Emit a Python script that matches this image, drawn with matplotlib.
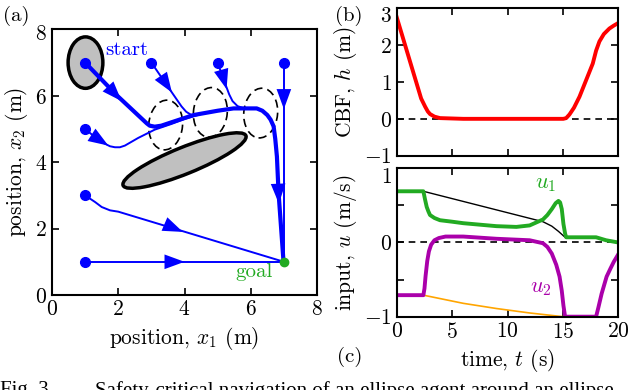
import numpy as np
import matplotlib
matplotlib.use("Agg")
import matplotlib.pyplot as plt
import matplotlib.transforms as mtransforms
from matplotlib.patches import Ellipse

plt.rcParams['font.family'] = 'serif'
plt.rcParams['font.serif'] = ['cmr10']
plt.rcParams['mathtext.fontset'] = 'cm'
plt.rcParams['axes.formatter.use_mathtext'] = True
plt.rcParams['axes.unicode_minus'] = True
plt.rcParams['font.size'] = 15.5
plt.rcParams['lines.solid_joinstyle'] = 'round'

# (a) trajectories in the plane (x1, x2)
main_x = [1.0, 1.95, 2.86, 2.95, 3.1, 3.3, 3.6, 4.27, 5.0, 5.48, 6.18, 6.35, 6.5, 6.6, 6.69, 6.74, 6.79, 6.84, 6.99]
main_y = [7.0, 6.02, 5.17, 5.1, 5.07, 5.1, 5.2, 5.42, 5.55, 5.62, 5.62, 5.55, 5.42, 5.28, 5.08, 4.7, 4.17, 3.07, 1.0]
traj2_x = [3.0, 3.46, 3.91, 4.05, 4.21, 4.6]
traj2_y = [7.0, 6.33, 5.68, 5.52, 5.42, 5.48]
traj3_x = [5.0, 5.2, 5.35, 5.45, 5.6, 5.8, 6.1]
traj3_y = [7.0, 6.44, 6.04, 5.84, 5.69, 5.62, 5.62]
traj4_x = [7.0, 7.0]
traj4_y = [7.0, 1.0]
traj5_x = [1.0, 1.45, 1.75, 1.9, 2.05, 2.2, 2.6, 3.1, 3.6, 4.0, 4.4]
traj5_y = [5.0, 4.63, 4.48, 4.45, 4.45, 4.5, 4.73, 4.98, 5.15, 5.3, 5.42]
traj6_x = [1.0, 1.3, 1.5, 1.75, 2.0, 7.0]
traj6_y = [3.0, 2.8, 2.65, 2.55, 2.51, 1.0]
traj7_x = [1.0, 7.0]
traj7_y = [1.0, 1.0]
agent_x = [3.43, 4.78, 6.3]
agent_y = [5.12, 5.5, 5.48]

# (b) CBF
t_h = [0, 2.2, 2.56, 2.8, 3.0, 3.4, 3.9, 6, 10, 15.04, 15.3, 15.6, 16.0, 16.5, 17.1, 17.7, 18.0, 18.3, 18.7, 19.2, 19.6, 20]
h = [2.75, 0.55, 0.33, 0.2, 0.13, 0.06, 0.02, 0.0, 0.0, 0.0, 0.02, 0.12, 0.3, 0.6, 1.05, 1.5, 1.85, 2.1, 2.3, 2.45, 2.53, 2.6]

# (c) inputs
t_u1 = [0, 2.4, 2.55, 2.7, 2.85, 3.0, 3.4, 3.9, 5.0, 6.0, 9.0, 10.8, 12.0, 13.2, 13.6, 14.0, 14.35, 14.6,
        14.75, 14.9, 15.05, 15.2, 15.3, 18.0, 18.9, 20]
u1 = [0.69, 0.69, 0.58, 0.48, 0.42, 0.37, 0.33, 0.30, 0.28, 0.26, 0.22, 0.21, 0.23, 0.31, 0.37, 0.45, 0.53, 0.56,
      0.54, 0.45, 0.25, 0.12, 0.07, 0.07, 0.03, 0.0]
t_u1n = [0, 2.4, 13.2, 14.0, 14.6, 15.2]
u1n = [0.69, 0.69, 0.28, 0.22, 0.15, 0.07]
t_u2 = [0, 2.4, 2.5, 2.6, 2.75, 2.9, 3.1, 3.4, 3.8, 4.4, 6, 9, 12, 13.2, 13.6, 14.0, 14.4, 14.7, 14.9, 15.05,
        15.2, 18.0, 18.2, 18.5, 18.95, 19.3, 19.6, 20]
u2 = [-0.71, -0.71, -0.62, -0.45, -0.25, -0.12, -0.03, 0.03, 0.06, 0.08, 0.08, 0.05, 0.03, -0.01, -0.06, -0.15,
      -0.3, -0.46, -0.65, -0.85, -1.0, -1.0, -0.88, -0.69, -0.46, -0.35, -0.26, -0.16]
t_u2n = [0, 2.4, 6.0, 9.0, 12, 15]
u2n = [-0.71, -0.71, -0.82, -0.89, -0.95, -1.0]

blue = '#0000ff'
green = '#22aa22'

fig = plt.figure(figsize=(6.4, 3.9), dpi=100)
ax = fig.add_axes([0.0813, 0.2436, 0.414, 0.681])
axb = fig.add_axes([0.620, 0.6008, 0.346, 0.378])
axc = fig.add_axes([0.620, 0.188, 0.346, 0.3805])

for a in (ax, axb, axc):
    a.tick_params(direction='in', top=True, right=True, length=5, width=1.2)
    for s in a.spines.values():
        s.set_linewidth(1.5)

# obstacles
ax.add_patch(Ellipse((4.0, 4.05), 4.0, 0.8, angle=22, fc='#c0c0c0', ec='black', lw=2.5, zorder=2))
ax.add_patch(Ellipse((1.01, 7.0), 1.05, 1.55, angle=0, fc='#c0c0c0', ec='black', lw=2.5, zorder=2))
for cx, cy in zip(agent_x, agent_y):
    ax.add_patch(Ellipse((cx, cy), 1.02, 1.5, angle=-5, fc='none', ec='black', lw=1.2,
                         ls=(0, (5, 3)), zorder=2))

for xs, ys in [(traj2_x, traj2_y), (traj3_x, traj3_y), (traj4_x, traj4_y),
               (traj5_x, traj5_y), (traj6_x, traj6_y), (traj7_x, traj7_y)]:
    ax.plot(xs, ys, color=blue, lw=1.4, zorder=3)
    ax.plot(xs[0], ys[0], 'o', color=blue, ms=7, zorder=4)
ax.plot(main_x, main_y, color=blue, lw=3, zorder=3)
ax.plot(main_x[0], main_y[0], 'o', color=blue, ms=7, zorder=4)
ax.plot(7.0, 1.0, 'o', color=green, ms=6, zorder=5)


def arrow(x0, y0, x1, y1, ms=24):
    ax.annotate('', xy=(x1, y1), xytext=(x0, y0),
                arrowprops=dict(arrowstyle='-|>,head_length=0.6,head_width=0.22', color=blue,
                                lw=0, mutation_scale=ms, shrinkA=0, shrinkB=0), zorder=5)


arrow(1.6, 6.38, 2.1, 5.84)
arrow(3.3, 6.58, 3.62, 6.1)
arrow(5.1, 6.8, 5.27, 6.2)
arrow(7.0, 6.4, 7.0, 5.6)
arrow(1.2, 4.82, 1.7, 4.5)
arrow(6.82, 3.5, 6.85, 2.75)
arrow(3.2, 2.22, 3.95, 1.9)
arrow(3.3, 1.0, 4.0, 1.0)

ax.text(1.62, 7.38, 'start', color=blue, fontsize=15, va='center')
ax.text(5.55, 0.68, 'goal', color=green, fontsize=15, va='center')
ax.set_xlim(0, 8)
ax.set_ylim(0, 8)
ax.set_xticks([0, 2, 4, 6, 8])
ax.set_yticks([0, 2, 4, 6, 8])
ax.set_xlabel(r'position, $x_1$ (m)')
ax.set_ylabel(r'position, $x_2$ (m)')

# (b)
axb.axhline(0, color='black', lw=1.2, ls=(0, (4, 3)))
axb.plot(t_h, h, color='#ff0000', lw=2.8)
axb.set_xlim(0, 20)
axb.set_ylim(-1, 3)
axb.set_xticks([0, 5, 10, 15, 20])
axb.set_xticklabels([])
axb.set_yticks([-1, 0, 1, 2, 3])
axb.set_ylabel(r'CBF, $h$ (m)')

# (c)
axc.axhline(0, color='black', lw=1.2, ls=(0, (4, 3)))
axc.plot(t_u1n, u1n, color='black', lw=1)
axc.plot(t_u2n, u2n, color='#ffa500', lw=1.2)
axc.plot(t_u1, u1, color=green, lw=2.8)
axc.plot(t_u2, u2, color='#aa00aa', lw=2.8)
axc.text(13.4, 0.78, r'$u_1$', color=green, fontsize=16, ha='center', va='center')
axc.text(13.0, -0.62, r'$u_2$', color='#aa00aa', fontsize=16, ha='center', va='center')
axc.set_xlim(0, 20)
axc.set_ylim(-1, 1)
axc.set_xticks([0, 5, 10, 15, 20])
axc.set_yticks([-1, -0.5, 0, 0.5, 1])
axc.set_yticklabels([r'$-1$', '', r'$0$', '', r'$1$'])
axc.set_xlabel(r'time, $t$ (s)')
axc.set_ylabel(r'input, $u$ (m/s)')

# push the topmost y tick label down a little, as in the original
for a, dy in ((ax, 3), (axb, 6), (axc, 7)):
    lab = a.get_yticklabels()[-1]
    lab.set_transform(lab.get_transform() + mtransforms.ScaledTranslation(0, -dy / 100, fig.dpi_scale_trans))

fig.text(0.005, 0.985, '(a)', fontsize=15, va='top')
fig.text(0.523, 0.985, '(b)', fontsize=15, va='top')
fig.text(0.527, 0.085, '(c)', fontsize=15, va='center')
fig.text(0.0, 0.024, 'Fig. 3.', family='Liberation Serif', fontsize=15, va='top')
fig.text(0.148, 0.024, 'Safety-critical navigation of an ellipse agent around an ellipse',
         family='Liberation Serif', fontsize=15, va='top')

fig.savefig('out.png', dpi=100)
